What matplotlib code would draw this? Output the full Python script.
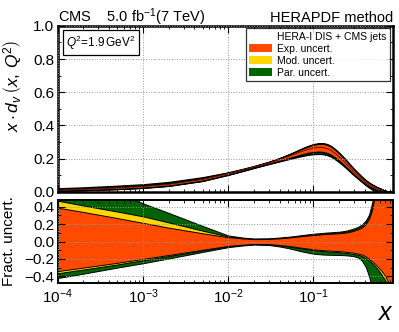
import numpy as np
import matplotlib as mpl
mpl.use('Agg')
import matplotlib.pyplot as plt
from matplotlib.patches import Patch
from matplotlib.ticker import AutoMinorLocator, LogLocator, NullFormatter

mpl.rcParams['font.family'] = ['Liberation Sans', 'DejaVu Sans']
mpl.rcParams['mathtext.fontset'] = 'custom'
mpl.rcParams['mathtext.rm'] = 'Liberation Sans'
mpl.rcParams['mathtext.it'] = 'Liberation Sans:italic'
mpl.rcParams['mathtext.bf'] = 'Liberation Sans:bold'

# x grid of the read points
x = [1e-4, 2e-4, 5e-4, 1e-3, 2e-3, 5e-3, 1e-2, 1.5e-2, 2e-2, 3e-2,
     4e-2, 5e-2, 6e-2, 7e-2, 8.5e-2, 0.1, 0.115, 0.13, 0.145, 0.16,
     0.18, 0.2, 0.225, 0.25, 0.275, 0.3, 0.335, 0.37, 0.41, 0.45,
     0.49, 0.53, 0.575, 0.62, 0.66, 0.7, 0.74, 0.78, 0.82, 0.86]

# central x*d_v at Q^2 = 1.9 GeV^2
central = [0.012, 0.016, 0.024, 0.032, 0.045, 0.075, 0.11, 0.133, 0.15, 0.175,
           0.195, 0.212, 0.227, 0.24, 0.255, 0.264, 0.268, 0.267, 0.261, 0.251,
           0.232, 0.212, 0.187, 0.163, 0.14, 0.12, 0.097, 0.077, 0.058, 0.043,
           0.031, 0.021, 0.013, 0.008, 0.0045, 0.0025, 0.0013, 0.0006, 0.0003, 0.0001]

# fractional uncertainty envelopes (cumulative: exp, exp+mod, exp+mod+par)
exp_up = [0.39, 0.34, 0.27, 0.215, 0.16, 0.095, 0.05, 0.035, 0.028, 0.03,
          0.037, 0.045, 0.053, 0.06, 0.068, 0.075, 0.08, 0.085, 0.088, 0.09,
          0.093, 0.096, 0.1, 0.106, 0.115, 0.125, 0.14, 0.16, 0.2, 0.26,
          0.37, 0.55, 0.85, 1.2, 1.5, 1.8, 2.0, 2.0, 2.0, 2.0]
mod_up = [0.47, 0.415, 0.345, 0.29, 0.22, 0.125, 0.058, 0.04, 0.03, 0.032,
          0.04, 0.048, 0.056, 0.064, 0.073, 0.08, 0.085, 0.09, 0.094, 0.096,
          0.1, 0.103, 0.108, 0.115, 0.124, 0.135, 0.152, 0.175, 0.215, 0.28,
          0.4, 0.59, 0.9, 1.3, 1.6, 1.9, 2.1, 2.1, 2.1, 2.1]
tot_up = [0.82, 0.71, 0.56, 0.44, 0.33, 0.18, 0.07, 0.045, 0.035, 0.037,
          0.046, 0.055, 0.063, 0.072, 0.082, 0.09, 0.095, 0.1, 0.104, 0.106,
          0.11, 0.113, 0.12, 0.128, 0.14, 0.152, 0.17, 0.195, 0.24, 0.31,
          0.45, 0.66, 1.0, 1.4, 1.7, 2.0, 2.2, 2.2, 2.2, 2.2]
exp_dn = [-0.34, -0.3, -0.245, -0.2, -0.155, -0.095, -0.05, -0.036, -0.028, -0.03,
          -0.04, -0.05, -0.06, -0.07, -0.08, -0.09, -0.095, -0.1, -0.103, -0.105,
          -0.108, -0.11, -0.115, -0.12, -0.125, -0.13, -0.14, -0.15, -0.17, -0.2,
          -0.23, -0.26, -0.295, -0.33, -0.365, -0.4, -0.45, -0.5, -0.6, -0.7]
mod_dn = [-0.365, -0.322, -0.264, -0.215, -0.167, -0.102, -0.054, -0.039, -0.03, -0.033,
          -0.044, -0.055, -0.067, -0.078, -0.09, -0.1, -0.105, -0.11, -0.114, -0.117,
          -0.12, -0.123, -0.128, -0.133, -0.138, -0.143, -0.153, -0.165, -0.19, -0.22,
          -0.25, -0.285, -0.325, -0.37, -0.41, -0.45, -0.5, -0.56, -0.65, -0.75]
tot_dn = [-0.42, -0.37, -0.3, -0.25, -0.195, -0.12, -0.065, -0.045, -0.035, -0.04,
          -0.057, -0.075, -0.093, -0.11, -0.127, -0.14, -0.146, -0.15, -0.152, -0.153,
          -0.154, -0.155, -0.157, -0.16, -0.165, -0.17, -0.185, -0.22, -0.29, -0.4,
          -0.55, -0.7, -0.85, -1.0, -1.0, -1.0, -1.0, -1.0, -1.0, -1.0]

c_exp = '#ff4a00'
c_mod = '#ffd700'
c_par = '#006400'

x = np.array(x)
central = np.array(central)
bands = [(tot_dn, tot_up, c_par), (mod_dn, mod_up, c_mod), (exp_dn, exp_up, c_exp)]

fig = plt.figure(figsize=(3.99, 3.32), dpi=100)
ax1 = fig.add_axes([0.145, 0.422, 0.840, 0.500])
ax2 = fig.add_axes([0.145, 0.147, 0.840, 0.251])

for dn, up, col in bands:
    lo = central * (1 + np.array(dn))
    hi = central * (1 + np.array(up))
    ax1.fill_between(x, lo, hi, facecolor=col, edgecolor='black', linewidth=0.9)
    ax2.fill_between(x, dn, up, facecolor=col, edgecolor='black', linewidth=0.7)
ax1.plot(x, central, color='#5a1a00', lw=0.7)

for ax in (ax1, ax2):
    ax.set_xscale('log')
    ax.set_xlim(1e-4, 0.86)
    ax.xaxis.set_major_locator(LogLocator(base=10, numticks=10))
    ax.xaxis.set_minor_locator(LogLocator(base=10, subs=np.arange(2, 10), numticks=10))
    ax.xaxis.set_minor_formatter(NullFormatter())
    ax.yaxis.set_minor_locator(AutoMinorLocator(2))
    ax.tick_params(which='both', direction='in', top=True, right=True, labelsize=11)
    ax.tick_params(which='major', length=5, width=0.8, pad=2.5)
    ax.tick_params(which='minor', length=2.5, width=0.6)
    ax.grid(True, which='major', linestyle=':', color='#999999', linewidth=0.7)
    ax.set_axisbelow(False)

for s in ax1.spines.values():
    s.set_linewidth(1.8)
for s in ax2.spines.values():
    s.set_linewidth(1.4)

ax1.set_ylim(0, 1.0)
ax1.set_yticks([0.0, 0.2, 0.4, 0.6, 0.8, 1.0])
ax1.set_yticklabels(['0.0', '0.2', '0.4', '0.6', '0.8', '1.0'])
ax1.tick_params(labelbottom=False)
ax1.set_ylabel(r'$x\cdot d_v\,\left(x,\,Q^2\right)$', fontsize=12.5)
ax1.yaxis.set_label_coords(-0.1, 0.64)

ax2.set_ylim(-0.48, 0.48)
ax2.set_yticks([-0.4, -0.2, 0.0, 0.2, 0.4])
ax2.set_yticklabels(['\u22120.4', '\u22120.2', '0.0', '0.2', '0.4'])
ax2.set_ylabel('Fract. uncert.', fontsize=11)
ax2.yaxis.set_label_coords(-0.125, 0.5)
ax2.tick_params(axis='x', pad=3)

# legend
handles = [Patch(facecolor='none', edgecolor='none'),
           Patch(facecolor=c_exp, edgecolor='none'),
           Patch(facecolor=c_mod, edgecolor='none'),
           Patch(facecolor=c_par, edgecolor='none')]
labels = ['HERA-I DIS + CMS jets', 'Exp. uncert.', 'Mod. uncert.', 'Par. uncert.']
leg = ax1.legend(handles, labels, loc='upper right', bbox_to_anchor=(0.99, 0.985),
                 fontsize=7.5, frameon=True, fancybox=False, handlelength=2.2,
                 handleheight=0.8, handletextpad=0.5, labelspacing=0.2,
                 borderpad=0.3, borderaxespad=0.0)
leg.get_frame().set_edgecolor('black')
leg.get_frame().set_linewidth(0.9)

ax1.text(0.025, 0.955, r'$Q^2$=1.9$\,$GeV$^2$', transform=ax1.transAxes, fontsize=8.5,
         va='top', ha='left',
         bbox=dict(boxstyle='square,pad=0.25', facecolor='white', edgecolor='black', linewidth=0.9))

fig.text(0.145, 0.935, r'CMS    5.0 fb$^{-1}$(7 TeV)', fontsize=10.5, ha='left', va='baseline')
fig.text(0.985, 0.935, 'HERAPDF method', fontsize=10.5, ha='right', va='baseline')
fig.text(0.965, 0.035, r'$x$', fontsize=18, ha='center', va='baseline')

fig.savefig('out.png', dpi=100)
